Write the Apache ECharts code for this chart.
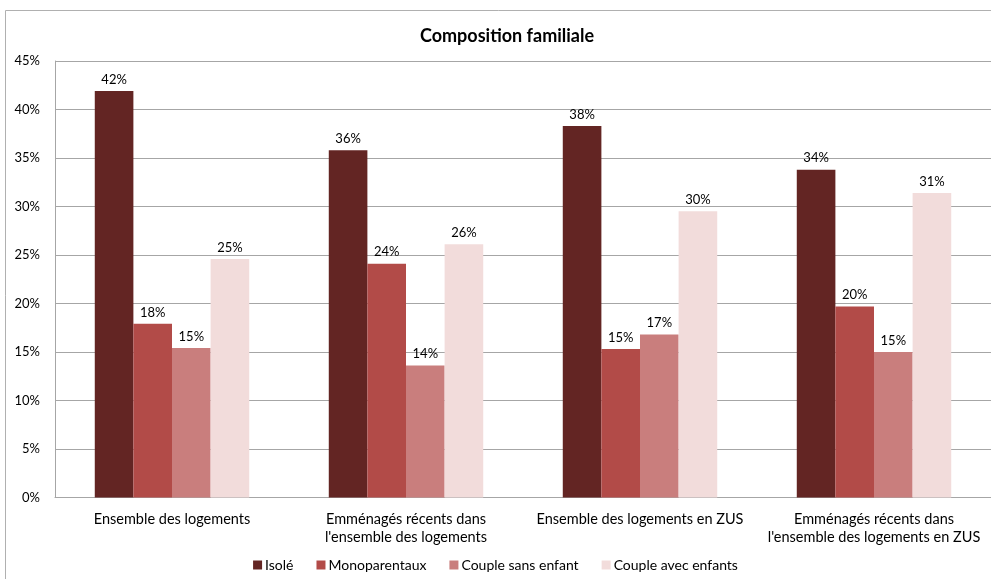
<!DOCTYPE html>
<html>
<head>
<meta charset="utf-8">
<script src="https://cdn.jsdelivr.net/npm/echarts@6/dist/echarts.min.js"></script>
<style>
  html, body { margin: 0; padding: 0; background: #fff; }
  #chart { width: 991px; height: 579px; }
</style>
</head>
<body>
<div id="chart"></div>
<script>
// Catégories (axe horizontal)
const categories = [
  'Ensemble des logements',
  'Emménagés récents dans\nl\'ensemble des logements',
  'Ensemble des logements en ZUS',
  'Emménagés récents dans\nl\'ensemble des logements en ZUS'
];

// Part de chaque type de ménage (%)
const isole = [41.9, 35.8, 38.3, 33.8];
const monoparentaux = [17.9, 24.1, 15.3, 19.7];
const coupleSansEnfant = [15.4, 13.6, 16.8, 15.0];
const coupleAvecEnfants = [24.6, 26.1, 29.5, 31.4];

const seriesNames = ['Isolé', 'Monoparentaux', 'Couple sans enfant', 'Couple avec enfants'];
const seriesColors = ['#632523', '#b24b48', '#c97e7d', '#f2dcdb'];

const yTicks = { min: 0, max: 45, interval: 5 };

const FONT = 'Lato, "Open Sans", sans-serif';

const chart = echarts.init(document.getElementById('chart'), null, { renderer: 'canvas' });

function barSeries(name, data, color) {
  return {
    name: name,
    type: 'bar',
    data: data,
    barGap: '0%',
    barCategoryGap: '34%',
    itemStyle: { color: color },
    label: {
      show: true,
      position: 'top',
      distance: 5,
      color: '#000',
      fontFamily: FONT,
      fontSize: 13,
      formatter: p => Math.round(p.value) + '%'
    },
    emphasis: { disabled: true }
  };
}

chart.setOption({
  animation: false,
  backgroundColor: '#fff',
  title: {
    text: 'Composition familiale',
    left: 502,
    top: 22,
    textAlign: 'center',
    textStyle: { fontFamily: FONT, fontSize: 18, fontWeight: 'bold', color: '#000' }
  },
  graphic: [{
    type: 'rect',
    shape: { x: 5.5, y: 10.5, width: 1000, height: 600 },
    style: { fill: 'none', stroke: '#b0b0b0', lineWidth: 1 },
    silent: true,
    z: -1
  }],
  legend: {
    data: seriesNames,
    bottom: 2,
    left: 'center',
    icon: 'rect',
    itemWidth: 9,
    itemHeight: 9,
    itemGap: 23,
    textStyle: { fontFamily: FONT, fontSize: 14, color: '#000', padding: [0, 0, 0, -2] }
  },
  grid: { left: 55, right: 0, top: 61, bottom: 81.5, containLabel: false },
  xAxis: {
    type: 'category',
    data: categories,
    axisLine: { show: true, lineStyle: { color: '#a6a6a6' } },
    axisTick: { show: false },
    axisLabel: {
      interval: 0,
      margin: 13,
      fontFamily: FONT,
      fontSize: 14.5,
      lineHeight: 18,
      color: '#000'
    }
  },
  yAxis: {
    type: 'value',
    min: yTicks.min,
    max: yTicks.max,
    interval: yTicks.interval,
    axisLine: { show: true, lineStyle: { color: '#a6a6a6' } },
    axisTick: { show: false },
    splitLine: { lineStyle: { color: '#a6a6a6' } },
    axisLabel: {
      margin: 15,
      fontFamily: FONT,
      fontSize: 13,
      color: '#000',
      formatter: v => v + '%'
    }
  },
  series: [
    barSeries(seriesNames[0], isole, seriesColors[0]),
    barSeries(seriesNames[1], monoparentaux, seriesColors[1]),
    barSeries(seriesNames[2], coupleSansEnfant, seriesColors[2]),
    barSeries(seriesNames[3], coupleAvecEnfants, seriesColors[3])
  ]
});
</script>
</body>
</html>
